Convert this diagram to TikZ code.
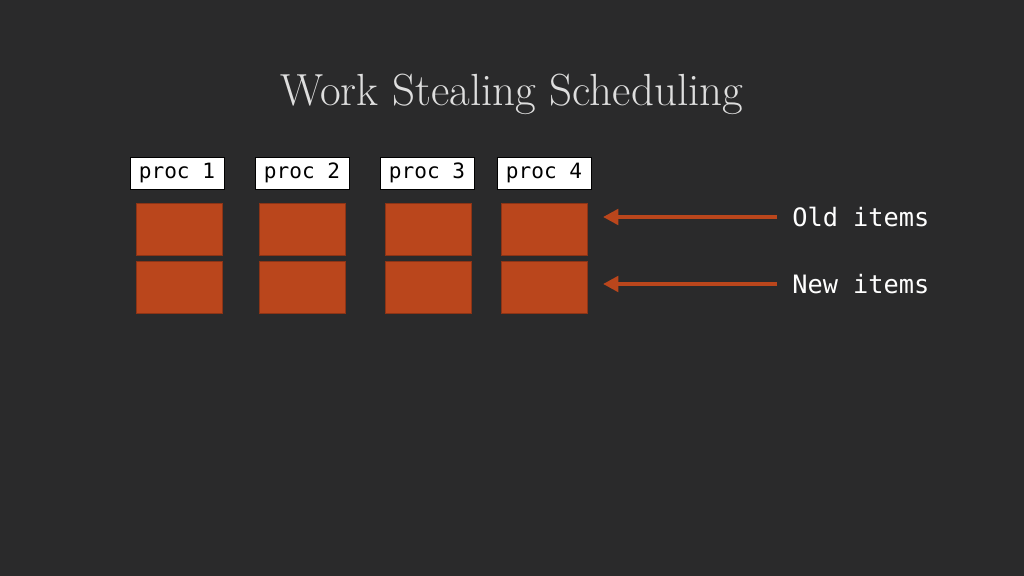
\documentclass[tikz,border=0pt]{standalone}
\usepackage{fontspec}
\newfontfamily\codefont{DejaVu Sans Mono}
\usetikzlibrary{positioning,arrows.meta}
\definecolor{slidebg}{RGB}{42,42,43}
\definecolor{itemred}{RGB}{186,70,28}
\definecolor{itemedge}{RGB}{140,52,22}
\definecolor{titlegrey}{RGB}{222,222,222}

\begin{document}
\begin{tikzpicture}[x=0.025cm,y=-0.025cm,
	proc/.style = {draw=black,fill=white,line width=0.6pt,minimum width=2.35cm,minimum height=0.8cm,inner sep=0pt,font=\codefont\fontsize{15}{17}\selectfont},
	item/.style = {draw=itemedge,fill=itemred,line width=0.6pt,minimum width=2.15cm,minimum height=1.3cm,inner sep=0pt},
	lbl/.style = {text=white,font=\codefont\fontsize{18}{20}\selectfont,anchor=west,inner ysep=0pt,inner xsep=0.375cm},
	itemarrow/.style = {draw=itemred,line width=2.8pt,-{Triangle[length=11pt,width=11pt]}}]

	\fill[slidebg] (0,0) rectangle (1024,576);
	\node[text=titlegrey,font=\fontsize{32}{36}\selectfont] (title) at (512,94) {Work Stealing Scheduling};

	% one column per processor
	\foreach \i/\x/\px in {1/179/177,2/302/302,3/428/427,4/544/544}{
		\node[proc] (p\i) at (\px,173) {proc \i};
		\node[item] (o\i) at (\x,229) {};
		\node[item] (n\i) at (\x,287) {};
	}

	\node[lbl] (old) at (777,217) {Old items};
	\node[lbl] (new) at (777,284) {New items};
	\coordinate (oldtip) at (603,217);
	\coordinate (newtip) at (603,284);

	\draw[itemarrow] (old.west) -- (oldtip);
	\draw[itemarrow] (new.west) -- (newtip);

\end{tikzpicture}
\end{document}
